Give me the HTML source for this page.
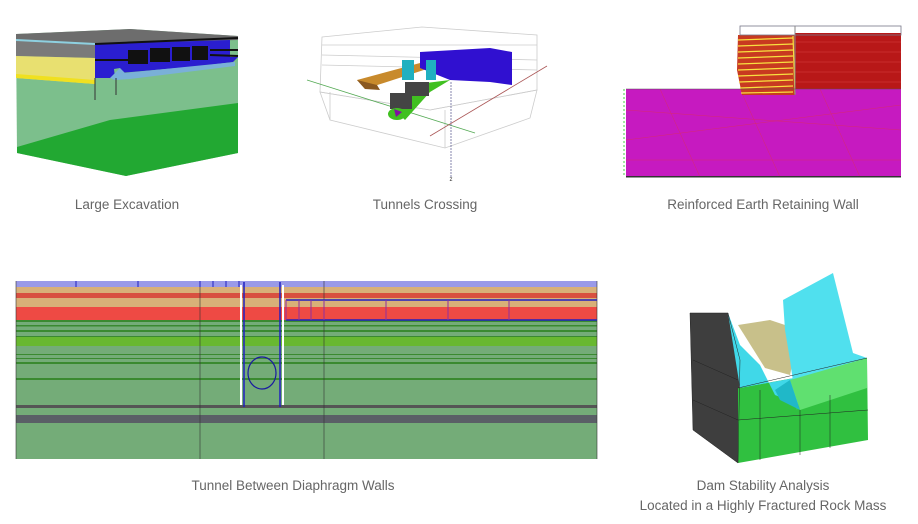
<!DOCTYPE html>
<html><head><meta charset="utf-8"><style>
body{margin:0;background:#fff;width:918px;height:524px;overflow:hidden}
svg{display:block}
text{font-family:"Liberation Sans",sans-serif;font-size:13.5px;fill:#666;text-anchor:middle}
</style></head><body>
<svg width="918" height="524" viewBox="0 0 918 524">
<!-- Large Excavation -->
<polygon points="16,34 130,29 238,36 238,153 126,176 17,153" fill="#7cbf8c"/>
<polygon points="17,147 110,120 238,103 238,153 126,176 17,153" fill="#22a832"/>
<polygon points="16,34 130,29 238,36 238,40 95,44 16,40" fill="#6d6d6d"/>
<polygon points="16,40 95,44 95,58 16,56" fill="#7a7a7a"/>
<polygon points="16,56 95,58 95,84 16,78" fill="#e8e070"/>
<polygon points="16,74 95,80 95,84 16,78" fill="#f0e020"/>
<line x1="16" y1="40" x2="95" y2="44" stroke="#8ed0e0" stroke-width="2"/>
<polygon points="95,44 230,40 230,57 238,57 233,62 200,66 120,73 120,68 114,69 115,78 95,78" fill="#2a1ed0"/>
<polygon points="110,78 120,68 125,73 235,62 235,66 130,79 115,80" fill="#7ab0d8"/>
<g fill="#111"><rect x="128" y="50" width="20" height="14"/><rect x="150" y="48" width="20" height="14"/><rect x="172" y="47" width="18" height="14"/><rect x="192" y="46" width="16" height="14"/></g>
<g stroke="#111" stroke-width="2"><line x1="95" y1="44" x2="238" y2="38"/><line x1="210" y1="50" x2="238" y2="50"/><line x1="210" y1="55" x2="238" y2="56"/><line x1="95" y1="60" x2="130" y2="60"/></g>
<line x1="95" y1="78" x2="95" y2="100" stroke="#333"/><line x1="116" y1="78" x2="116" y2="95" stroke="#333"/>
<!-- Tunnels Crossing -->
<g stroke="#ccc" fill="none" stroke-width="0.8">
<polygon points="322,37 422,27 537,35 537,90 430,110 320,92"/>
<polygon points="320,92 430,110 537,90 530,118 445,148 330,120"/>
<line x1="322" y1="45" x2="537" y2="45"/><line x1="322" y1="55" x2="537" y2="60"/><line x1="322" y1="65" x2="537" y2="70"/>
<line x1="330" y1="120" x2="330" y2="92"/><line x1="445" y1="148" x2="445" y2="110"/>
</g>
<line x1="307" y1="80" x2="475" y2="133" stroke="#5a5" stroke-width="0.8"/>
<line x1="430" y1="136" x2="547" y2="66" stroke="#a55" stroke-width="0.8"/>
<line x1="451" y1="82" x2="451" y2="177" stroke="#669" stroke-width="0.8" stroke-dasharray="2,1"/>
<polygon points="357,80 420,63 430,68 365,89" fill="#c88a2c"/>
<polygon points="357,80 365,89 380,90 377,85" fill="#8a5820"/>
<polygon points="420,52 490,48 512,52 512,85 490,82 450,80 420,68" fill="#3010d0"/>
<rect x="402" y="60" width="12" height="20" fill="#20b0c0"/><rect x="426" y="60" width="10" height="20" fill="#20b0c0"/>
<polygon points="395,110 410,85 450,80 430,92 405,120" fill="#40c020"/>
<rect x="405" y="82" width="24" height="14" fill="#444"/><rect x="390" y="93" width="22" height="16" fill="#444"/>
<ellipse cx="397" cy="114" rx="9" ry="6" fill="#40c020"/><polygon points="394,109 402,112 396,117" fill="#8010a0"/>
<text x="451" y="181" style="font-size:6px;fill:#333">z</text>
<!-- Reinforced Earth -->
<rect x="626" y="89" width="275" height="88" fill="#c61ac0"/>
<g stroke="#e03050" stroke-width="0.5" opacity="0.7">
<line x1="626" y1="110" x2="901" y2="130"/><line x1="626" y1="140" x2="901" y2="105"/><line x1="660" y1="89" x2="700" y2="177"/><line x1="740" y1="89" x2="780" y2="177"/><line x1="820" y1="89" x2="860" y2="177"/><line x1="626" y1="160" x2="901" y2="160"/></g>
<rect x="626" y="176" width="275" height="1.5" fill="#333"/>
<rect x="795" y="33" width="106" height="56" fill="#b81818"/>
<g stroke="#d84040" stroke-width="0.6"><line x1="795" y1="42" x2="901" y2="42"/><line x1="795" y1="52" x2="901" y2="52"/><line x1="795" y1="62" x2="901" y2="62"/><line x1="795" y1="72" x2="901" y2="72"/><line x1="795" y1="82" x2="901" y2="82"/></g>
<polygon points="738,35 795,35 795,95 742,95 737,70" fill="#c83a20"/>
<g stroke="#f8e040" stroke-width="1.2"><line x1="738" y1="40" x2="793" y2="38"/><line x1="738" y1="46" x2="793" y2="44"/><line x1="738" y1="52" x2="793" y2="50"/><line x1="738" y1="58" x2="793" y2="56"/><line x1="738" y1="64" x2="793" y2="62"/><line x1="738" y1="70" x2="793" y2="68"/><line x1="738" y1="76" x2="793" y2="74"/><line x1="739" y1="82" x2="793" y2="80"/><line x1="740" y1="88" x2="793" y2="86"/><line x1="741" y1="93" x2="793" y2="92"/><line x1="793" y1="36" x2="795" y2="94"/></g>
<rect x="740" y="26" width="161" height="9" fill="none" stroke="#778" stroke-width="0.8"/>
<line x1="795" y1="26" x2="795" y2="95" stroke="#888"/>
<line x1="626" y1="89" x2="901" y2="89" stroke="#555" stroke-width="0.5"/>
<line x1="624" y1="89" x2="624" y2="177" stroke="#4c4" stroke-dasharray="2,2"/>
<!-- Tunnel between diaphragm walls -->
<rect x="16" y="281" width="581" height="178" fill="#74ac78"/>
<rect x="16" y="281" width="581" height="6" fill="#9a9ae8"/>
<rect x="16" y="287" width="581" height="6" fill="#d8b078"/>
<rect x="16" y="293" width="581" height="5" fill="#d85040"/>
<rect x="16" y="298" width="581" height="9" fill="#d8b078"/>
<rect x="16" y="307" width="581" height="13" fill="#ee4a44"/>
<g fill="#3a8a30"><rect x="16" y="320" width="581" height="2"/><rect x="16" y="325" width="581" height="1.5"/><rect x="16" y="330" width="581" height="2"/><rect x="16" y="336" width="581" height="1"/><rect x="16" y="354" width="581" height="1"/><rect x="16" y="358" width="581" height="1"/><rect x="16" y="362" width="581" height="2"/><rect x="16" y="378" width="581" height="2"/></g>
<rect x="16" y="337" width="581" height="9" fill="#68b830"/>
<rect x="16" y="405" width="581" height="3" fill="#555"/>
<rect x="16" y="415" width="581" height="8" fill="#5a5f66"/>
<g stroke="#333" stroke-width="0.6"><line x1="200" y1="281" x2="200" y2="459"/><line x1="324" y1="281" x2="324" y2="459"/><line x1="16" y1="281" x2="16" y2="459"/><line x1="597" y1="281" x2="597" y2="459"/></g>
<g stroke="#2020c0" stroke-width="1.5"><line x1="244" y1="282" x2="244" y2="407"/><line x1="280" y1="282" x2="280" y2="407"/><line x1="286" y1="300" x2="597" y2="300"/><line x1="286" y1="320" x2="597" y2="320"/></g>
<ellipse cx="262" cy="373" rx="14" ry="16" fill="none" stroke="#1a1aa0" stroke-width="1.2"/>
<g stroke="#9030a0" stroke-width="1" fill="none"><path d="M286 300v20M299 300v20M311 300v20M324 300v20M386 300v20M448 300v20M509 300v20"/></g>
<g stroke="#2020c0" stroke-width="1"><path d="M76 281v6M138 281v6M200 281v6M213 281v6M226 281v6M239 281v6"/></g>
<g fill="#fff"><rect x="240" y="285" width="2" height="120"/><rect x="282" y="285" width="2" height="120"/></g>
<!-- Dam -->
<polygon points="690,313 728,313 740,360 738,463 693,430" fill="#3e3e3e"/>
<polygon points="738,388 800,377 867,358 868,440 738,463" fill="#30c040"/>
<polygon points="728,313 740,345 760,365 775,395 800,405 800,377 740,388" fill="#40d8e8"/>
<polygon points="738,325 770,320 800,330 790,375 765,368" fill="#c8c08a"/>
<polygon points="783,300 833,273 853,353 867,358 800,380 797,410 790,360 785,330" fill="#50e0ee"/>
<polygon points="790,380 867,358 867,388 800,410" fill="#60e070"/>
<polygon points="790,380 800,410 780,400 775,390" fill="#20b8c8"/>
<g stroke="#222" stroke-width="0.5" fill="none"><polyline points="690,313 728,313 740,360 738,463 693,430 690,313"/><line x1="738" y1="388" x2="867" y2="358"/><line x1="760" y1="390" x2="760" y2="460"/><line x1="800" y1="410" x2="800" y2="455"/><line x1="830" y1="395" x2="830" y2="448"/><line x1="738" y1="420" x2="868" y2="410"/><line x1="693" y1="360" x2="738" y2="380"/><line x1="693" y1="400" x2="738" y2="420"/></g>
<!-- captions -->
<text x="127" y="209">Large Excavation</text>
<text x="425" y="209">Tunnels Crossing</text>
<text x="763" y="209">Reinforced Earth Retaining Wall</text>
<text x="293" y="490">Tunnel Between Diaphragm Walls</text>
<text x="763" y="490">Dam Stability Analysis</text>
<text x="763" y="510">Located in a Highly Fractured Rock Mass</text>
</svg>
</body></html>
